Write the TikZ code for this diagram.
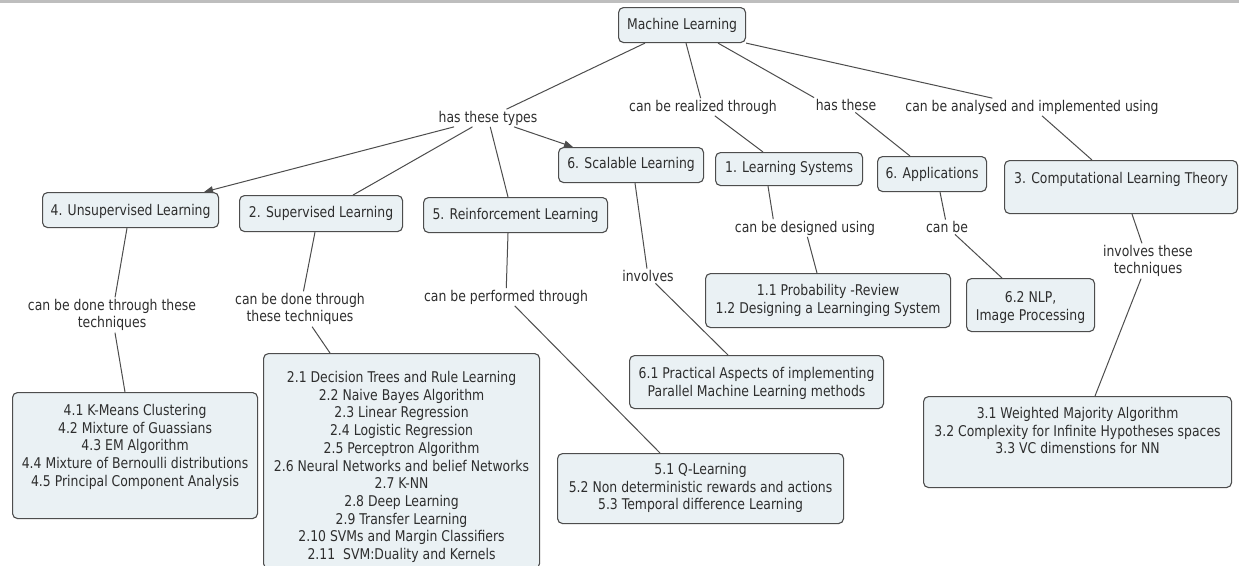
\documentclass[tikz,border=0pt]{standalone}
\usepackage{fontspec}
\setmainfont{DejaVu Sans}[FakeStretch=0.84]
\usetikzlibrary{arrows.meta,calc}
\definecolor{boxfill}{HTML}{EAF1F4}
\definecolor{boxline}{HTML}{4D4D4D}
\definecolor{ink}{HTML}{2E2E2E}
\definecolor{band}{HTML}{BEBEBE}
% centred stack of lines whose baseline is the first line
\newcommand{\rows}[1]{\begin{tabular}[t]{@{}c@{}}#1\end{tabular}}

\begin{document}
\begin{tikzpicture}[x=1pt,y=-1pt,
  every node/.style={font=\fontsize{14.8}{17.7}\selectfont, text=ink},
  concept/.style={draw=boxline, fill=boxfill, line width=1.1pt, rounded corners=5pt,
                  anchor=north west, inner xsep=0pt, inner ysep=0pt},
  link/.style={inner sep=1.5pt, align=center},
  conn/.style={draw=boxline, line width=1pt},
  arr/.style={conn, -{Triangle[length=9pt,width=7pt]}}]
\clip (0,0) rectangle (1239,565);
\fill[white] (0,0) rectangle (1239,565);
\fill[band] (0,0) rectangle (1239,3);

% concepts
\node[concept, minimum width=127pt, text height=22pt, text depth=13pt] (ml) at (618,7) {\rows{Machine Learning}};
\node[concept, minimum width=145pt, text height=21pt, text depth=14pt] (scal) at (558,147) {\rows{6. Scalable Learning}};
\node[concept, minimum width=147pt, text height=20pt, text depth=13pt] (ls) at (715,152) {\rows{1. Learning Systems}};
\node[concept, minimum width=109pt, text height=22pt, text depth=13pt] (app) at (877,156) {\rows{6. Applications}};
\node[concept, minimum width=233pt, text height=23pt, text depth=30pt] (clt) at (1004,160) {\rows{3. Computational Learning Theory}};
\node[concept, minimum width=176pt, text height=23pt, text depth=12pt] (uns) at (42,192) {\rows{4. Unsupervised Learning}};
\node[concept, minimum width=163pt, text height=22pt, text depth=14pt] (sup) at (239,195) {\rows{2. Supervised Learning}};
\node[concept, minimum width=184pt, text height=22pt, text depth=13pt] (rl) at (423,197) {\rows{5. Reinforcement Learning}};

\node[concept, minimum width=245pt, text height=23pt, text depth=103pt] (unslist) at (12,392)
  {\rows{4.1 K-Means Clustering\\4.2 Mixture of Guassians\\4.3 EM Algorithm\\4.4 Mixture of Bernoulli distributions\\4.5 Principal Component Analysis}};
\node[concept, minimum width=276pt, text height=29pt, text depth=186pt] (suplist) at (263,353)
  {\rows{2.1 Decision Trees and Rule Learning\\2.2 Naive Bayes Algorithm\\2.3 Linear Regression\\2.4 Logistic Regression\\2.5 Perceptron Algorithm\\2.6 Neural Networks and belief Networks\\2.7 K-NN\\2.8 Deep Learning\\2.9 Transfer Learning\\2.10 SVMs and Margin Classifiers\\2.11~ SVM:Duality and Kernels}};
\node[concept, minimum width=245pt, text height=22pt, text depth=32pt] (lslist) at (705,273)
  {\rows{1.1 Probability -Review\\1.2 Designing a Learninging System}};
\node[concept, minimum width=128pt, text height=24pt, text depth=29pt] (applist) at (966,278)
  {\rows{6.2 NLP,\\Image Processing}};
\node[concept, minimum width=254pt, text height=23pt, text depth=30pt] (scallist) at (629,355)
  {\rows{6.1 Practical Aspects of implementing\\Parallel Machine Learning methods}};
\node[concept, minimum width=286pt, text height=21pt, text depth=49pt] (rllist) at (557,453)
  {\rows{5.1 Q-Learning\\5.2 Non deterministic rewards and actions\\5.3 Temporal difference Learning}};
\node[concept, minimum width=308pt, text height=22pt, text depth=69pt] (cltlist) at (923,396)
  {\rows{3.1 Weighted Majority Algorithm\\3.2 Complexity for Infinite Hypotheses spaces\\3.3 VC dimenstions for NN}};

% linking phrases
\node[link] (types) at (488,118) {has these types};
\node[link] (realized) at (703,107) {can be realized through};
\node[link] (hasthese) at (846,105) {has these};
\node[link] (analysed) at (1032,107) {can be analysed and implemented using};
\node[link] (unsdone) at (112,315) {can be done through these\\techniques};
\node[link] (supdone) at (300,309) {can be done through\\these techniques};
\node[link] (performed) at (506,297) {can be performed through};
\node[link] (involves) at (648,276) {involves};
\node[link] (designed) at (805,228) {can be designed using};
\node[link] (canbe) at (947,227) {can be};
\node[link] (invtech) at (1148,261) {involves these\\techniques};

% connections
\draw[conn] ([xshift=27pt]ml.south west) -- (types);
\draw[arr] (types) -- ([xshift=-15pt]uns.north east);
\draw[conn] (types) -- ([xshift=-50pt]sup.north east);
\draw[conn] (types) -- ([xshift=85pt]rl.north west);
\draw[arr] (types) -- ([xshift=15pt]scal.north west);

\draw[conn] ([xshift=68pt]ml.south west) -- (realized);
\draw[conn] (realized) -- ([xshift=48pt]ls.north west);
\draw[conn] ([xshift=100pt]ml.south west) -- (hasthese.north west);
\draw[conn] (hasthese) -- ([xshift=33pt]app.north west);
\draw[conn] (ml.south east) -- (analysed);
\draw[conn] (analysed) -- ([xshift=88pt]clt.north west);

\draw[conn] ([xshift=85pt]uns.south west) -- (unsdone);
\draw[conn] (unsdone) -- ([xshift=113pt]unslist.north west);
\draw[conn] ([xshift=76pt]sup.south west) -- (supdone);
\draw[conn] (supdone) -- ([xshift=67pt]suplist.north west);
\draw[conn] ([xshift=85pt]rl.south west) -- (performed);
\draw[conn] (performed) -- ([xshift=103pt]rllist.north west);
\draw[conn] ([xshift=77pt]scal.south west) -- (involves);
\draw[conn] (involves) -- ([xshift=99pt]scallist.north west);
\draw[conn] ([xshift=53pt]ls.south west) -- ([xshift=40pt]designed.north west);
\draw[conn] (designed) -- ([xshift=112pt]lslist.north west);
\draw[conn] ([xshift=63pt]app.south west) -- (canbe);
\draw[conn] (canbe) -- ([xshift=36pt]applist.north west);
\draw[conn] ([xshift=128pt]clt.south west) -- (invtech);
\draw[conn] (invtech) -- ([xshift=172pt]cltlist.north west);
\end{tikzpicture}
\end{document}
